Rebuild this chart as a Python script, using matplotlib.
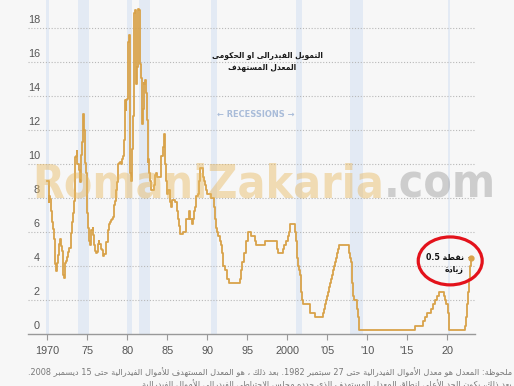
import re
import numpy as np
import pandas as pd
import matplotlib
matplotlib.use("Agg")
import matplotlib.pyplot as plt
from matplotlib.patches import Ellipse
from matplotlib import transforms
from matplotlib import font_manager as fm

plt.rcParams['font.family'] = ['Liberation Sans', 'DejaVu Sans']

# ---------------- data ----------------
# Effective federal funds rate, monthly, Jan 1970 - Sep 1982
monthly_start_year = 1970
effective_rate = [
    8.98, 8.98, 7.76, 8.10, 7.95, 7.61, 7.21, 6.61, 6.29, 6.20, 5.60, 4.90,
    4.14, 3.72, 3.71, 4.16, 4.63, 4.91, 5.31, 5.56, 5.55, 5.20, 4.91, 4.14,
    3.50, 3.29, 3.83, 4.17, 4.27, 4.46, 4.55, 4.80, 4.87, 5.04, 5.06, 5.33,
    5.94, 6.58, 7.09, 7.12, 7.84, 8.49, 10.40, 10.50, 10.78, 10.01, 10.03, 9.95,
    9.65, 8.97, 9.35, 10.51, 11.31, 11.93, 12.92, 12.01, 11.34, 10.06, 9.45, 8.53,
    7.13, 6.24, 5.54, 5.49, 5.22, 5.55, 6.10, 6.14, 6.24, 5.82, 5.22, 5.20,
    4.87, 4.77, 4.84, 4.82, 5.29, 5.48, 5.31, 5.29, 5.25, 5.02, 4.95, 4.65,
    4.61, 4.68, 4.69, 4.73, 5.35, 5.39, 5.42, 5.90, 6.14, 6.47, 6.51, 6.56,
    6.70, 6.78, 6.79, 6.89, 7.36, 7.60, 7.81, 8.04, 8.45, 8.96, 9.76, 10.03,
    10.07, 10.06, 10.09, 10.01, 10.24, 10.29, 10.47, 10.94, 11.43, 13.77, 13.18, 13.78,
    13.82, 14.13, 17.19, 17.61, 10.98, 9.47, 9.03, 9.61, 10.87, 12.81, 15.85, 18.90,
    19.08, 15.93, 14.70, 15.72, 18.52, 19.10, 19.04, 17.82, 15.87, 15.08, 13.31, 12.37,
    13.22, 14.78, 14.68, 14.94, 14.45, 14.15, 12.59, 10.12, 10.31,
]

# Target rate (upper bound) changes after Sep 27, 1982
target_dates = [
    "1982-10-01", "1982-11-19", "1982-12-14", "1983-05-25", "1983-06-24", "1983-07-14",
    "1983-08-18", "1983-09-15", "1984-03-27", "1984-04-06", "1984-06-07", "1984-07-20",
    "1984-08-09", "1984-09-20", "1984-10-02", "1984-10-11", "1984-11-08", "1984-11-23",
    "1984-12-06", "1984-12-20", "1985-02-14", "1985-05-20", "1985-06-14", "1985-08-21",
    "1985-12-18", "1986-03-07", "1986-04-21", "1986-07-11", "1986-08-21", "1987-01-15",
    "1987-04-30", "1987-05-22", "1987-09-04", "1987-10-22", "1987-11-04", "1988-01-28",
    "1988-03-30", "1988-05-09", "1988-05-25", "1988-06-22", "1988-07-19", "1988-08-09",
    "1988-11-17", "1988-12-15", "1989-01-05", "1989-02-09", "1989-02-24", "1989-06-06",
    "1989-07-07", "1989-07-27", "1989-10-18", "1989-11-06", "1989-12-20", "1990-07-13",
    "1990-10-29", "1990-11-13", "1990-12-07", "1990-12-18", "1991-01-09", "1991-02-01",
    "1991-03-08", "1991-04-30", "1991-08-06", "1991-09-13", "1991-10-31", "1991-11-06",
    "1991-12-06", "1991-12-20", "1992-04-09", "1992-07-02", "1992-09-04", "1994-02-04",
    "1994-03-22", "1994-04-18", "1994-05-17", "1994-08-16", "1994-11-15", "1995-02-01",
    "1995-07-06", "1995-12-19", "1996-01-31", "1997-03-25", "1998-09-29", "1998-10-15",
    "1998-11-17", "1999-06-30", "1999-08-24", "1999-11-16", "2000-02-02", "2000-03-21",
    "2000-05-16", "2001-01-03", "2001-01-31", "2001-03-20", "2001-04-18", "2001-05-15",
    "2001-06-27", "2001-08-21", "2001-09-17", "2001-10-02", "2001-11-06", "2001-12-11",
    "2002-11-06", "2003-06-25", "2004-06-30", "2004-08-10", "2004-09-21", "2004-11-10",
    "2004-12-14", "2005-02-02", "2005-03-22", "2005-05-03", "2005-06-30", "2005-08-09",
    "2005-09-20", "2005-11-01", "2005-12-13", "2006-01-31", "2006-03-28", "2006-05-10",
    "2006-06-29", "2007-09-18", "2007-10-31", "2007-12-11", "2008-01-22", "2008-01-30",
    "2008-03-18", "2008-04-30", "2008-10-08", "2008-10-29", "2008-12-16", "2015-12-16",
    "2016-12-14", "2017-03-15", "2017-06-14", "2017-12-13", "2018-03-21", "2018-06-13",
    "2018-09-26", "2018-12-19", "2019-07-31", "2019-09-18", "2019-10-30", "2020-03-03",
    "2020-03-15", "2022-03-16", "2022-05-04", "2022-06-15", "2022-07-27", "2022-09-21",
    "2022-11-02", "2022-12-14",
]
target_values = [
    9.5, 9.0, 8.5, 8.75, 9.0, 9.375,
    9.5, 9.25, 10.0, 10.5, 11.0, 11.5,
    11.75, 11.25, 11.0, 10.0, 9.5, 9.0,
    8.75, 8.25, 8.5, 7.75, 7.5, 7.875,
    7.75, 7.25, 6.75, 6.375, 5.875, 6.0,
    6.5, 6.75, 7.25, 7.0, 6.75, 6.5,
    6.75, 7.0, 7.25, 7.5, 7.75, 8.125,
    8.25, 8.75, 9.0, 9.25, 9.75, 9.5,
    9.25, 9.0, 8.75, 8.5, 8.25, 8.0,
    7.75, 7.5, 7.25, 7.0, 6.75, 6.25,
    6.0, 5.75, 5.5, 5.25, 5.0, 4.75,
    4.5, 4.0, 3.75, 3.25, 3.0, 3.25,
    3.5, 3.75, 4.25, 4.75, 5.5, 6.0,
    5.75, 5.5, 5.25, 5.5, 5.25, 5.0,
    4.75, 5.0, 5.25, 5.5, 5.75, 6.0,
    6.5, 6.0, 5.5, 5.0, 4.5, 4.0,
    3.75, 3.5, 3.0, 2.5, 2.0, 1.75,
    1.25, 1.0, 1.25, 1.5, 1.75, 2.0,
    2.25, 2.5, 2.75, 3.0, 3.25, 3.5,
    3.75, 4.0, 4.25, 4.5, 4.75, 5.0,
    5.25, 4.75, 4.5, 4.25, 3.5, 3.0,
    2.25, 2.0, 1.5, 1.0, 0.25, 0.5,
    0.75, 1.0, 1.25, 1.5, 1.75, 2.0,
    2.25, 2.5, 2.25, 2.0, 1.75, 1.25,
    0.25, 0.5, 1.0, 1.75, 2.5, 3.25,
    4.0, 4.5,
]

recession_start = [1969.8, 1973.83, 1980.0, 1981.5, 1990.5, 2001.17, 2007.92, 2020.08]
recession_end = [1970.2, 1975.17, 1980.55, 1982.88, 1991.2, 2001.88, 2009.5, 2020.35]

xtick_years = [1970, 1975, 1980, 1985, 1990, 1995, 2000, 2005, 2010, 2015, 2020]
xtick_labels = ["1970", "75", "80", "85", "90", "95", "2000", "'05", "'10", "'15", "20"]
ytick_values = [0, 2, 4, 6, 8, 10, 12, 14, 16, 18]

title_line1 = "التمويل الفيدرالى او الحكومى"
title_line2 = "المعدل المستهدف"
annot_line1 = "نقطة 0.5"
annot_line2 = "زيادة"
note_line1 = ("ملحوظة: المعدل هو معدل الأموال الفيدرالية حتى 27 سبتمبر 1982. "
              "بعد ذلك ، هو المعدل المستهدف للأموال الفيدرالية حتى 15 ديسمبر 2008.")
note_line2 = ("بعد ذلك، يكون الحد الأعلى لنطاق المعدل المستهدف الذي حدده "
              "مجلس الاحتياطي الفيدرالي للأموال الفيدرالية")

# ---------------- minimal Arabic shaping ----------------
TWO_FORM = {'ء': (0xFE80, 0xFE80), 'آ': (0xFE81, 0xFE82), 'أ': (0xFE83, 0xFE84),
            'ؤ': (0xFE85, 0xFE86), 'إ': (0xFE87, 0xFE88), 'ا': (0xFE8D, 0xFE8E),
            'ة': (0xFE93, 0xFE94), 'د': (0xFEA9, 0xFEAA), 'ذ': (0xFEAB, 0xFEAC),
            'ر': (0xFEAD, 0xFEAE), 'ز': (0xFEAF, 0xFEB0), 'و': (0xFEED, 0xFEEE),
            'ى': (0xFEEF, 0xFEF0)}
FOUR_FORM = {'ئ': 0xFE89, 'ب': 0xFE8F, 'ت': 0xFE95, 'ث': 0xFE99, 'ج': 0xFE9D,
             'ح': 0xFEA1, 'خ': 0xFEA5, 'س': 0xFEB1, 'ش': 0xFEB5, 'ص': 0xFEB9,
             'ض': 0xFEBD, 'ط': 0xFEC1, 'ظ': 0xFEC5, 'ع': 0xFEC9, 'غ': 0xFECD,
             'ف': 0xFED1, 'ق': 0xFED5, 'ك': 0xFED9, 'ل': 0xFEDD, 'م': 0xFEE1,
             'ن': 0xFEE5, 'ه': 0xFEE9, 'ي': 0xFEF1}
LAM_ALEF = {'آ': (0xFEF5, 0xFEF6), 'أ': (0xFEF7, 0xFEF8),
            'إ': (0xFEF9, 0xFEFA), 'ا': (0xFEFB, 0xFEFC)}


def _is_ar(c):
    return c in TWO_FORM or c in FOUR_FORM


def shape(s):
    out = []
    i, n = 0, len(s)
    while i < n:
        c = s[i]
        if not _is_ar(c):
            out.append(c)
            i += 1
            continue
        pj = i > 0 and s[i - 1] in FOUR_FORM
        if c == 'ل' and i + 1 < n and s[i + 1] in LAM_ALEF:
            iso, fin = LAM_ALEF[s[i + 1]]
            out.append(chr(fin if pj else iso))
            i += 2
            continue
        nj = i + 1 < n and _is_ar(s[i + 1])
        if c in FOUR_FORM:
            b = FOUR_FORM[c]
            f = b + 3 if (pj and nj) else b + 1 if pj else b + 2 if nj else b
        else:
            iso, fin = TWO_FORM[c]
            f = fin if pj else iso
        out.append(chr(f))
        i += 1
    return ''.join(out)


def ar(s):
    tokens = re.findall(r'[0-9][0-9.]*[0-9]|[0-9]|[^0-9]', shape(s))
    return ''.join(reversed(tokens))


def condensed_bold_font():
    """Pick an installed condensed/narrow bold face if there is one."""
    best, best_score = None, -1
    for f in fm.fontManager.ttflist:
        st = f.stretch
        cond = ('Narrow' in f.name or 'Condensed' in f.name or
                (isinstance(st, str) and 'condensed' in st) or
                (isinstance(st, (int, float)) and st < 500))
        if not cond:
            continue
        w = f.weight if isinstance(f.weight, (int, float)) else fm.weight_dict.get(f.weight, 400)
        score = 0 if 'Italic' in f.fname or 'Oblique' in f.fname else 1
        score += 2 if w >= 600 else 0
        if score > best_score:
            best, best_score = f.fname, score
    if best:
        return fm.FontProperties(fname=best)
    return fm.FontProperties(family='DejaVu Sans', weight='bold')


# ---------------- series ----------------
monthly_x = monthly_start_year + np.arange(len(effective_rate)) / 12.0
td = pd.to_datetime(target_dates)
target_x = td.year + (td.dayofyear - 1) / 365.25
xs = np.concatenate([monthly_x, np.asarray(target_x, dtype=float)])
ys = np.concatenate([effective_rate, target_values])

# ---------------- figure ----------------
W, H = 514, 386
bg = '#f7f7f7'
fig = plt.figure(figsize=(W / 100, H / 100), dpi=100, facecolor=bg)
renderer = fig.canvas.get_renderer()


def fit_width(t, target_px):
    w = t.get_window_extent(renderer).width
    t.set_fontsize(t.get_fontsize() * target_px / w)


ax = fig.add_axes([28 / W, 1 - 334 / H, (475 - 28) / W, 334 / H])
ax.set_facecolor(bg)
ax.set_xlim(1967.6, 2023.5)
ax.set_ylim(0, 19.65)

for s, e in zip(recession_start, recession_end):
    ax.axvspan(s, e, color='#e3eaf4', lw=0, zorder=0)

for v in ytick_values[1:]:
    ax.axhline(v, color='#b8b8b8', lw=0.8, ls=(0, (1, 1.6)), zorder=1)

ytrans = transforms.offset_copy(ax.get_yaxis_transform(), fig=fig, x=0, y=5, units='dots')
for v in ytick_values:
    ax.text(0.0268, v, str(v), transform=ytrans, ha='right', va='baseline',
            fontsize=7.8, color='#555555')

for sp in ['top', 'left', 'right']:
    ax.spines[sp].set_visible(False)
ax.spines['bottom'].set_color('#999999')
ax.spines['bottom'].set_linewidth(1.0)
ax.set_yticks([])
ax.set_xticks(xtick_years)
ax.set_xticklabels(xtick_labels)
ax.tick_params(axis='x', length=4, width=0.8, color='#999999', pad=4.5,
               labelsize=7.8, labelcolor='#555555')

line_color = '#d8a24a'
ax.plot(xs, ys, drawstyle='steps-post', color=line_color, lw=1.3, zorder=3)
ax.plot(xs[-1], ys[-1], 'o', ms=3.5, color=line_color, zorder=4)

# annotation near the last point
a1 = ax.annotate(ar(annot_line1), xy=(xs[-1], ys[-1]), xytext=(-5, 0), textcoords='offset points',
                 ha='right', va='center', fontsize=7.5, fontweight='bold', color='#111111',
                 family=['DejaVu Sans'],
                 arrowprops=dict(arrowstyle='-', color='#888888', lw=0.8, shrinkA=1.5, shrinkB=2.5))
fit_width(a1, 41)
a2 = ax.annotate(ar(annot_line2), xy=(xs[-1], ys[-1]), xytext=(-5, -8.5), textcoords='offset points',
                 ha='right', va='center', fontsize=a1.get_fontsize(), fontweight='bold',
                 color='#111111', family=['DejaVu Sans'])
ax.add_patch(Ellipse((2020.4, 4.3), 8.0, 2.82, fill=False, edgecolor='#e3121b', lw=2.3,
                     clip_on=False, zorder=6))

# recessions label
rec = ax.text(1996.1, 12.94, "← RECESSIONS →", ha='center', va='center', fontsize=7.3,
              fontproperties=None, fontweight='bold', color='#a9bcd9',
              family=['DejaVu Sans'], zorder=2)
fit_width(rec, 77)

# title
t1 = fig.text(267 / W, 1 - 55 / H, ar(title_line1), ha='center', va='center', fontsize=7.5,
              fontweight='bold', color='#1a1a1a', family=['DejaVu Sans'])
fit_width(t1, 110)
fig.text(262 / W, 1 - 66.5 / H, ar(title_line2), ha='center', va='center',
         fontsize=t1.get_fontsize(), fontweight='bold', color='#1a1a1a', family=['DejaVu Sans'])

# watermark
wm_font = condensed_bold_font()
wm = fig.text(32 / W, 1 - 197 / H, "RomaniZakaria", ha='left', va='baseline',
              fontproperties=wm_font, color='#e8b960', alpha=0.45, zorder=10)
wm.set_fontsize(40)
wm_com = ax.annotate(".com", xy=(1, 0), xycoords=wm, ha='left', va='bottom',
                     fontproperties=wm_font, color='#9a9a9a', alpha=0.45, zorder=10,
                     annotation_clip=False)
wm_com.set_fontsize(40)
total = wm.get_window_extent(renderer).width + wm_com.get_window_extent(renderer).width
scale = 463 / total
wm.set_fontsize(40 * scale)
wm_com.set_fontsize(40 * scale)

# footnote
n1 = fig.text(512 / W, 1 - 372 / H, ar(note_line1), ha='right', va='center', fontsize=6.6,
              color='#777777', family=['DejaVu Sans'])
fit_width(n1, 482)
fig.text(512 / W, 1 - 384 / H, ar(note_line2), ha='right', va='center',
         fontsize=n1.get_fontsize(), color='#777777', family=['DejaVu Sans'])

fig.savefig('out.png', dpi=100, facecolor=bg)
